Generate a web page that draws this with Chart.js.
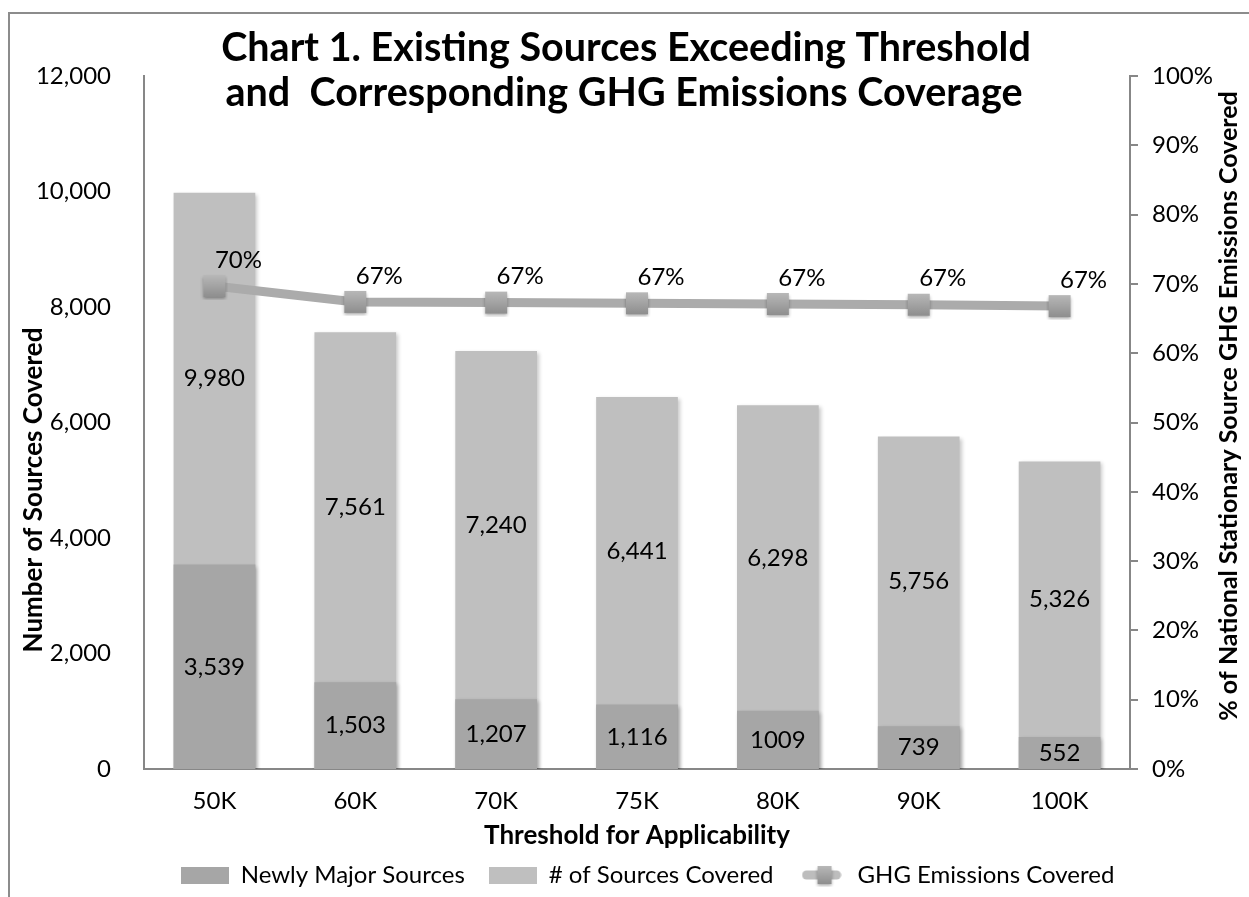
<!DOCTYPE html>
<html>
<head>
<meta charset="utf-8">
<script src="https://cdn.jsdelivr.net/npm/chart.js@4.4.0/dist/chart.umd.min.js"></script>
<style>
    html, body { margin: 0; padding: 0; background: #fff; }
</style>
</head>
<body>
<canvas id="myChart" width="1249" height="897"></canvas>
<script>
// data
const thresholds = ['50K', '60K', '70K', '75K', '80K', '90K', '100K'];
const newlyMajor = [3539, 1503, 1207, 1116, 1009, 739, 552];
const newlyMajorText = ['3,539', '1,503', '1,207', '1,116', '1009', '739', '552'];
const sourcesCovered = [9980, 7561, 7240, 6441, 6298, 5756, 5326];
const ghgCovered = [69.7, 67.4, 67.3, 67.2, 67.1, 67.0, 66.8];

const titleLines = ['Chart 1. Existing Sources Exceeding Threshold', 'and  Corresponding GHG Emissions Coverage'];
const leftTitle = 'Number of Sources Covered';
const rightTitle = '% of National Stationary Source GHG Emissions Covered';
const bottomTitle = 'Threshold for Applicability';

const FONT = 'Lato';
const darkGray = '#a6a6a6';
const lightGray = '#bfbfbf';
const axisGray = '#878787';

function squareMarker(w, h) {
    const c = document.createElement('canvas');
    c.width = w + 6;
    c.height = h + 6;
    const g = c.getContext('2d');
    g.shadowColor = 'rgba(0,0,0,0.35)';
    g.shadowBlur = 3;
    g.shadowOffsetY = 1.5;
    const grad = g.createLinearGradient(0, 3, 0, h + 3);
    grad.addColorStop(0, '#b8b8b8');
    grad.addColorStop(1, '#8e8e8e');
    g.fillStyle = grad;
    g.fillRect(3, 3, w, h);
    return c;
}

function boxIcon(color) {
    const c = document.createElement('canvas');
    c.width = 48;
    c.height = 17;
    const g = c.getContext('2d');
    g.fillStyle = color;
    g.fillRect(0, 0, 48, 17);
    return c;
}

function lineIcon() {
    const c = document.createElement('canvas');
    c.width = 40;
    c.height = 24;
    const g = c.getContext('2d');
    g.strokeStyle = '#bdbdbd';
    g.lineWidth = 9;
    g.lineCap = 'round';
    g.beginPath();
    g.moveTo(5, 12);
    g.lineTo(35, 12);
    g.stroke();
    g.drawImage(squareMarker(14, 18), 13, 0);
    return c;
}

const legendIcons = [boxIcon(darkGray), boxIcon(lightGray), lineIcon()];

// outer frame, titles
const decorations = {
    id: 'decorations',
    afterLayout(chart) {
        // legend in the reference sits a bit right of centre
        chart.legend.left += 38;
    },
    beforeDraw(chart) {
        const ctx = chart.ctx;
        ctx.save();
        ctx.strokeStyle = '#8c8c8c';
        ctx.lineWidth = 2;
        ctx.beginPath();
        ctx.moveTo(9, 897);
        ctx.lineTo(9, 13);
        ctx.lineTo(1249, 13);
        ctx.stroke();
        ctx.restore();
    },
    afterDraw(chart) {
        const ctx = chart.ctx;
        const area = chart.chartArea;
        ctx.save();
        ctx.fillStyle = '#000';
        ctx.textAlign = 'center';
        ctx.textBaseline = 'alphabetic';
        ctx.font = 'bold 39.5px ' + FONT;
        ctx.fillText(titleLines[0], 626, 61);
        ctx.fillText(titleLines[1], 624, 106);

        ctx.textBaseline = 'middle';
        ctx.font = 'bold 26px ' + FONT;
        ctx.fillText(bottomTitle, (area.left + area.right) / 2, 836);

        ctx.save();
        ctx.translate(34, 490);
        ctx.rotate(-Math.PI / 2);
        ctx.fillText(leftTitle, 0, 0);
        ctx.restore();

        ctx.font = 'bold 25px ' + FONT;
        ctx.save();
        ctx.translate(1229, 406);
        ctx.rotate(-Math.PI / 2);
        ctx.fillText(rightTitle, 0, 0);
        ctx.restore();
        ctx.restore();
    }
};

// soft shadow under the bars
const barShadow = {
    id: 'barShadow',
    beforeDatasetDraw(chart, args) {
        if (args.meta.type !== 'bar') return;
        const ctx = chart.ctx;
        ctx.save();
        ctx.shadowColor = 'rgba(0,0,0,0.22)';
        ctx.shadowBlur = 4;
        ctx.shadowOffsetX = 2;
        ctx.shadowOffsetY = 2;
    },
    afterDatasetDraw(chart, args) {
        if (args.meta.type !== 'bar') return;
        chart.ctx.restore();
    }
};

const valueLabels = {
    id: 'valueLabels',
    afterDatasetsDraw(chart) {
        const ctx = chart.ctx;
        const dark = chart.getDatasetMeta(0);
        const light = chart.getDatasetMeta(1);
        const line = chart.getDatasetMeta(2);
        ctx.save();
        ctx.fillStyle = '#000';
        ctx.font = '24px ' + FONT;
        ctx.textAlign = 'center';
        ctx.textBaseline = 'middle';
        dark.data.forEach((bar, i) => {
            ctx.fillText(newlyMajorText[i], bar.x, (bar.y + bar.base) / 2);
        });
        light.data.forEach((bar, i) => {
            ctx.fillText(sourcesCovered[i].toLocaleString('en-US'), bar.x, (bar.y + dark.data[i].y) / 2);
        });
        line.data.forEach((pt, i) => {
            ctx.fillText(Math.round(ghgCovered[i]) + '%', pt.x + 24, pt.y - 26);
        });
        ctx.restore();
    }
};

const ctx = document.getElementById('myChart');

new Chart(ctx, {
    type: 'bar',
    data: {
        labels: thresholds,
        datasets: [{
            label: 'Newly Major Sources',
            data: newlyMajor,
            backgroundColor: darkGray,
            order: 1,
            yAxisID: 'y'
        }, {
            label: '# of Sources Covered',
            data: sourcesCovered,
            backgroundColor: lightGray,
            order: 2,
            yAxisID: 'y'
        }, {
            type: 'line',
            label: 'GHG Emissions Covered',
            data: ghgCovered,
            borderColor: '#ababab',
            borderWidth: 9,
            pointStyle: squareMarker(22, 22),
            tension: 0,
            order: 0,
            yAxisID: 'y1'
        }]
    },
    plugins: [decorations, barShadow, valueLabels],
    options: {
        responsive: false,
        animation: false,
        devicePixelRatio: 1,
        datasets: {
            bar: { categoryPercentage: 1, barPercentage: 0.58 }
        },
        layout: {
            padding: { left: 8, right: 0, top: 76, bottom: 0 }
        },
        scales: {
            x: {
                stacked: true,
                grid: { display: false, drawTicks: false },
                border: { display: true, color: axisGray, width: 2 },
                ticks: { color: '#000', font: { family: FONT, size: 24 }, padding: 18 },
                afterFit: (scale) => { scale.height = 70; }
            },
            y: {
                position: 'left',
                min: 0,
                max: 12000,
                grid: { display: false, drawTicks: false },
                border: { display: true, color: axisGray, width: 2 },
                ticks: {
                    stepSize: 2000,
                    color: '#000',
                    padding: 33,
                    font: { family: FONT, size: 24 },
                    callback: (v) => v.toLocaleString('en-US')
                },
                afterFit: (scale) => { scale.width = 136; }
            },
            y1: {
                position: 'right',
                min: 0,
                max: 100,
                grid: { display: true, drawOnChartArea: false, drawTicks: true, tickLength: 8, color: axisGray, lineWidth: 2 },
                border: { display: true, color: axisGray, width: 2 },
                ticks: {
                    stepSize: 10,
                    color: '#000',
                    padding: 14,
                    font: { family: FONT, size: 24 },
                    callback: (v) => v + '%'
                },
                afterFit: (scale) => { scale.width = 119; }
            }
        },
        plugins: {
            title: { display: false },
            tooltip: { enabled: false },
            legend: {
                position: 'bottom',
                labels: {
                    usePointStyle: true,
                    pointStyleWidth: 48,
                    padding: 24,
                    font: { family: FONT, size: 24 },
                    generateLabels: (chart) => chart.data.datasets.map((ds, i) => ({
                        text: ds.label,
                        pointStyle: legendIcons[i],
                        datasetIndex: i,
                        hidden: false,
                        fontColor: '#000',
                        fillStyle: 'transparent',
                        strokeStyle: 'transparent',
                        lineWidth: 0
                    }))
                }
            }
        }
    }
});
</script>
</body>
</html>
